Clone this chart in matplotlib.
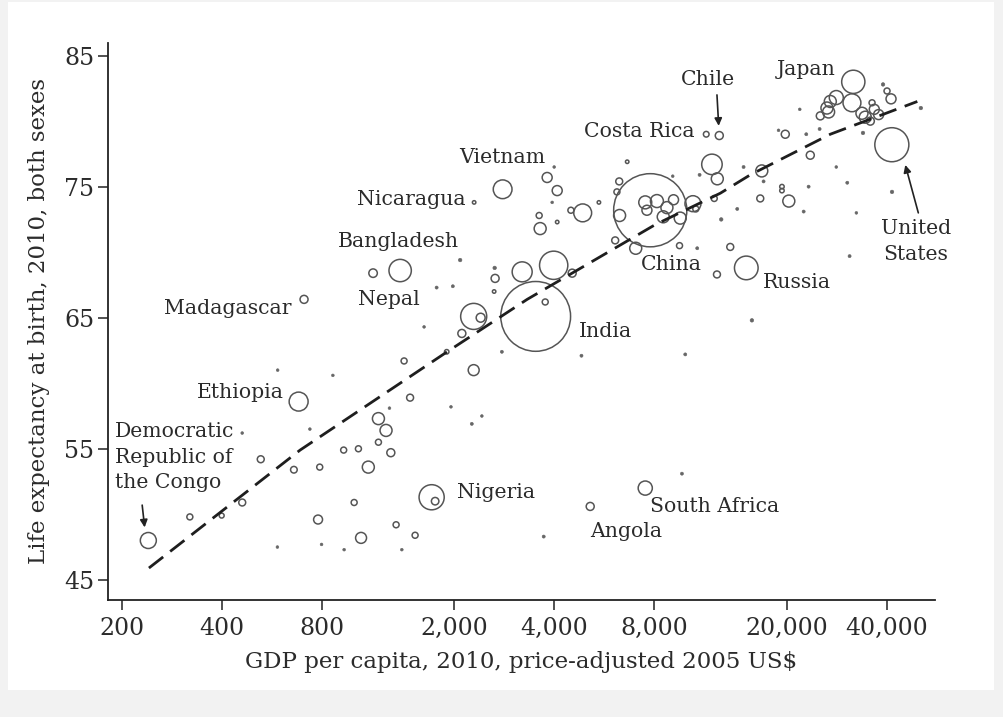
import matplotlib
matplotlib.use("Agg")
import matplotlib.pyplot as plt
from matplotlib.patches import Rectangle
import numpy as np

# ---------------- data ----------------
# GDP per capita (2005 US$), life expectancy (years), population (millions)
labeled_names = ["Democratic\nRepublic of\nthe Congo", "Ethiopia", "Madagascar", "Nepal",
                 "Bangladesh", "Nicaragua", "Vietnam", "India", "China", "Costa Rica",
                 "Chile", "Japan", "United\nStates", "Russia", "Nigeria", "South Africa", "Angola"]
labeled_gdp = [240, 680, 706, 1139, 1374, 2294, 2795, 3514, 7772, 11456,
               12540, 31736, 41450, 15120, 1709, 7508, 5127]
labeled_life = [48.0, 58.6, 66.4, 68.4, 68.6, 73.8, 74.8, 65.1, 73.2, 79.0,
                78.9, 83.0, 78.2, 68.8, 51.3, 52.0, 50.6]
labeled_pop = [64, 90, 16, 18, 125, 3, 88, 1220, 1340, 8,
               16, 135, 290, 140, 158, 50, 16]

other_gdp = [1751, 320, 399, 460, 523, 460, 588, 587, 735, 658, 787, 778, 797, 862, 929,
             1029, 999, 932, 1048, 1102, 1182, 1246, 1182, 1288, 1276, 1336, 1390, 1412,
             1472, 1524, 1622, 1769, 1979, 1897, 1954, 2082, 2107, 2287, 2287, 2400, 2257,
             2420, 2780, 2645, 2653, 2635, 3200, 3981, 4525, 3754, 3805, 4079, 3995, 3600,
             3625, 4079, 3939, 4485, 4867, 5446, 4826, 3715, 6625, 6269, 6170, 6285, 6096,
             7028, 7508, 8140, 8724, 9133, 7596, 8505, 9567, 10448, 10656, 9520, 10763,
             12340, 13530, 12710, 11918, 12368, 12109, 14202, 14838, 16832, 16657, 17043,
             19357, 19357, 20300, 22500, 23285, 23557, 19810, 18906, 22913, 25128, 21900,
             25250, 26440, 26745, 27060, 28208, 31443, 33700, 34481, 36142, 36710, 37823,
             35711, 39000, 40090, 41220, 33940, 50680, 28208, 30440, 41500, 32420, 30930,
             15720, 9906, 9681, 9082, 10940]
other_life = [51.0, 49.8, 49.9, 50.9, 54.2, 56.2, 61.0, 47.5, 56.5, 53.4, 53.6, 49.6, 47.7,
              60.6, 54.9, 55.0, 50.9, 47.3, 48.2, 53.6, 57.3, 56.4, 55.5, 54.7, 58.1, 49.2,
              47.3, 61.7, 58.9, 48.4, 64.3, 67.3, 67.4, 62.4, 58.2, 69.4, 63.8, 61.0, 65.1,
              65.0, 56.9, 57.5, 62.4, 68.8, 68.0, 67.0, 68.5, 69.0, 68.4, 66.2, 75.7, 74.7,
              76.5, 72.8, 71.8, 72.3, 73.8, 73.2, 73.0, 73.8, 62.1, 48.3, 76.9, 75.4, 74.6,
              72.8, 70.9, 70.3, 73.8, 73.9, 73.4, 74.0, 73.2, 72.7, 72.6, 73.7, 73.3, 70.5,
              70.3, 68.3, 70.4, 72.5, 76.7, 75.6, 74.1, 73.3, 76.5, 76.2, 74.1, 75.4, 75.0,
              74.7, 73.9, 73.1, 75.0, 77.4, 79.0, 79.3, 79.0, 79.4, 80.9, 80.4, 81.0, 80.7,
              81.5, 81.8, 81.4, 80.6, 80.3, 81.4, 80.9, 80.5, 80.0, 82.8, 82.3, 81.7, 79.1,
              81.0, 76.5, 75.3, 74.6, 73.0, 69.7, 64.8, 62.2, 53.1, 75.8, 75.9]
other_pop = [14, 9, 6, 12, 12, 1, 1.2, 1, 1.2, 11, 9, 20, 1, 1, 9, 9, 9, 1, 30, 36, 36, 36,
             9, 16, 1, 9, 1, 9, 12, 9, 1, 1.5, 1.5, 5, 1, 2, 16, 30, 170, 20, 1.5, 1, 1.5,
             2, 16, 3, 100, 200, 16, 9, 25, 25, 1, 9, 36, 3, 1, 9, 80, 3, 1.5, 1.5, 3, 12,
             9, 36, 12, 36, 42, 42, 36, 25, 25, 36, 36, 64, 9, 9, 1.5, 12, 12, 2, 105, 36,
             9, 1.5, 1.5, 36, 12, 1.5, 5, 5, 36, 1.5, 1.5, 16, 16, 1, 1.5, 1.5, 1, 16, 36,
             36, 36, 49, 80, 36, 36, 9, 25, 25, 16, 2, 9, 25, 2, 2, 1, 1.5, 2, 0.7, 1.5, 2,
             1.5, 1.5, 0.7, 1.5]

# fitted curve
fit_gdp = [241, 687, 1903, 3313, 8045, 12630, 15540, 27060, 49460]
fit_life = [45.9, 54.9, 62.4, 66.4, 72.1, 74.5, 75.9, 79.0, 81.5]

xtick_vals = [200, 400, 800, 2000, 4000, 8000, 20000, 40000]
xtick_labels = ["200", "400", "800", "2,000", "4,000", "8,000", "20,000", "40,000"]
ytick_vals = [45, 55, 65, 75, 85]

# ---------------- figure ----------------
plt.rcParams["font.family"] = ["DejaVu Serif"]
fig = plt.figure(figsize=(10.04, 7.17), dpi=100, facecolor="#f2f2f2")
fig.patches.append(Rectangle((8 / 1004, 27 / 717), 986 / 1004, 688 / 717,
                             transform=fig.transFigure, facecolor="white",
                             edgecolor="none", zorder=-10))
ax = fig.add_axes([108 / 1004, 1 - 600 / 717, 827 / 1004, (600 - 42.5) / 717])
ax.set_facecolor("none")
ax.set_xscale("log")
ax.set_xlim(181.5, 55900)
ax.set_ylim(43.46, 86.0)

gdp_all = np.array(labeled_gdp + other_gdp, dtype=float)
life_all = np.array(labeled_life + other_life, dtype=float)
pop_all = np.array(labeled_pop + other_pop, dtype=float)
sizes = 2.07 * pop_all
small = pop_all < 2.5

ax.scatter(gdp_all[~small], life_all[~small], s=sizes[~small], facecolors="none",
           edgecolors="#555555", linewidths=1.1, zorder=3)
ax.scatter(gdp_all[small], life_all[small], s=np.maximum(sizes[small] * 1.6, 4.0),
           facecolors="#666666", edgecolors="#666666", linewidths=0.4, zorder=3)

ax.plot(fit_gdp, fit_life, color="#1e1e1e", lw=2.0, dashes=(6.5, 3.2), zorder=4,
        solid_capstyle="butt", dash_capstyle="butt")

# spines / ticks
for side in ("top", "right"):
    ax.spines[side].set_visible(False)
for side in ("left", "bottom"):
    ax.spines[side].set_linewidth(1.3)
    ax.spines[side].set_color("#222222")
ax.set_xticks(xtick_vals)
ax.set_xticklabels(xtick_labels)
ax.xaxis.set_minor_locator(matplotlib.ticker.NullLocator())
ax.set_yticks(ytick_vals)
ax.tick_params(axis="both", direction="out", length=7, width=1.1, color="#222222",
               labelsize=17, labelcolor="#2b2b2b")
ax.tick_params(axis="x", pad=5)
ax.tick_params(axis="y", pad=3)

ax.set_xlabel("GDP per capita, 2010, price-adjusted 2005 US$", fontsize=16.5,
              color="#2b2b2b", labelpad=8)
ax.set_ylabel("Life expectancy at birth, 2010, both sexes", fontsize=16.5,
              color="#2b2b2b", labelpad=10)

# ---------------- annotations ----------------
tc = "#2b2b2b"
fs = 14.7
text_pos = {
    "Japan": (22840, 83.95, "center"),
    "Chile": (11617, 83.15, "center"),
    "Costa Rica": (7200, 79.2, "center"),
    "Vietnam": (2786, 77.2, "center"),
    "Nicaragua": (1483, 74.0, "center"),
    "Bangladesh": (1355, 70.83, "center"),
    "Nepal": (1270, 66.4, "center"),
    "Madagascar": (415, 65.7, "center"),
    "India": (5690, 63.95, "center"),
    "China": (8988, 69.03, "center"),
    "Russia": (21528, 67.7, "center"),
    "United\nStates": (48945, 70.8, "center"),
    "Ethiopia": (453, 59.26, "center"),
    "Nigeria": (2672, 51.67, "center"),
    "South Africa": (12109, 50.63, "center"),
    "Angola": (6557, 48.66, "center"),
    "Democratic\nRepublic of\nthe Congo": (190, 54.37, "left"),
}
for name, (x, y, ha) in text_pos.items():
    ax.text(x, y, name, fontsize=fs, color=tc, ha=ha, va="center",
            linespacing=1.45, zorder=5)

arrow_kw = dict(arrowstyle="-|>", color="#222222", lw=1.2, mutation_scale=11,
                shrinkA=0, shrinkB=0)
ax.annotate("", xy=(234, 49.0), xytext=(230, 50.7), arrowprops=arrow_kw)
ax.annotate("", xy=(12490, 79.64), xytext=(12340, 82.0), arrowprops=arrow_kw)
ax.annotate("", xy=(45500, 76.66), xytext=(49800, 73.0), arrowprops=arrow_kw)

fig.savefig("out.png", dpi=100, facecolor=fig.get_facecolor())
